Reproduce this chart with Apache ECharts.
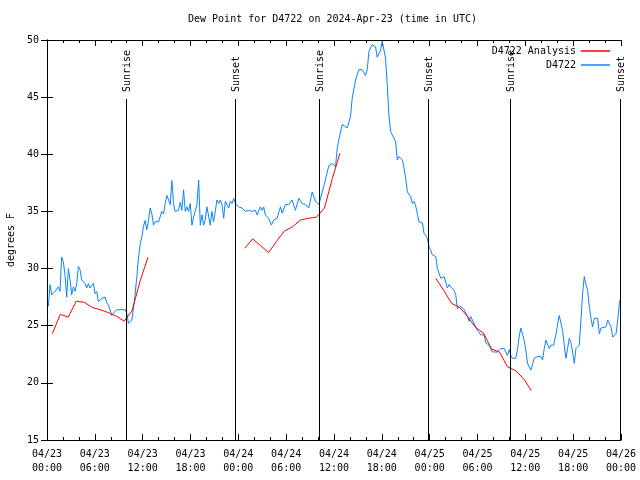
<!DOCTYPE html>
<html>
<head>
<meta charset="utf-8">
<script src="https://cdn.jsdelivr.net/npm/echarts@6/dist/echarts.min.js"></script>
<style>html,body{margin:0;padding:0;background:#fff}#c{width:640px;height:480px}</style>
</head>
<body>
<div id="c"></div>
<script>
// hours since 2024-04-23 00:00 UTC
var blueHours = [0.17,0.38,0.59,1.01,1.42,1.63,1.84,2.05,2.26,2.47,2.68,2.89,3.10,3.31,3.52,3.73,3.94,4.15,4.36,4.77,4.98,5.19,5.40,5.82,6.03,6.24,6.45,6.87,7.29,7.50,7.71,8.13,8.34,8.76,9.17,9.80,10.01,10.22,10.64,10.97,11.27,11.48,11.69,11.90,12.10,12.31,12.52,12.73,12.94,13.15,13.36,13.57,13.78,13.99,14.20,14.41,14.62,14.83,15.04,15.25,15.46,15.66,15.87,16.08,16.29,16.50,16.71,16.92,17.13,17.34,17.55,17.76,17.97,
18.18,18.39,18.60,18.81,19.02,19.23,19.44,19.65,19.85,20.06,20.27,20.48,20.69,20.90,21.11,21.32,21.53,21.74,21.95,22.16,22.37,22.79,23.00,23.21,23.42,23.63,24.04,24.46,24.88,25.30,25.72,26.14,26.35,26.76,26.97,27.18,27.39,27.81,28.15,28.44,28.86,29.28,29.49,29.91,30.33,30.74,31.16,31.58,32.00,32.42,32.84,33.26,33.68,34.10,34.31,34.72,35.35,
35.77,36.19,36.40,36.61,37.03,37.24,37.66,38.07,38.28,38.70,39.12,39.54,39.96,40.17,40.38,40.79,41.21,41.42,41.63,41.84,42.05,42.26,42.47,42.68,42.89,43.10,43.31,43.52,43.73,43.94,44.15,44.36,44.57,44.78,44.99,
45.20,45.41,45.62,45.82,46.03,46.24,46.45,46.66,46.87,47.08,47.29,47.50,47.71,47.92,48.13,48.34,48.76,48.97,49.18,49.39,49.60,49.81,50.01,50.22,50.43,50.64,50.85,51.06,51.27,51.48,51.69,51.90,52.11,52.32,52.74,52.95,
53.15,53.36,53.78,53.99,54.41,54.83,55.04,55.46,55.88,56.50,56.92,57.34,57.76,57.97,58.18,58.39,58.80,59.01,59.22,59.43,59.64,59.85,60.06,60.27,60.48,60.69,60.90,61.11,61.32,61.53,61.74,61.95,62.16,62.37,62.58,62.79,63.00,63.21,63.54,63.83,64.04,64.25,64.46,64.67,64.88,65.09,65.30,65.51,65.72,65.93,66.14,66.35,66.56,66.77,66.97,67.18,67.39,67.60,67.81,68.02,68.23,68.44,68.65,69.07,69.28,69.49,69.70,70.12,70.33,70.54,70.75,70.96,71.17,71.38,71.59,71.80,71.88];
var blueValues = [26.7,28.6,27.7,28.0,28.4,28.0,31.0,30.6,29.4,27.5,30.0,29.0,27.7,28.4,28.0,28.7,30.2,29.9,29.0,28.7,28.3,28.7,28.3,28.7,27.8,28.0,27.1,27.4,27.5,27.0,26.8,25.9,26.1,26.4,26.4,26.4,26.1,25.2,25.5,27.2,29.3,31.0,32.1,32.8,33.7,34.2,33.4,34.2,35.3,34.8,33.8,34.1,34.2,34.1,34.1,35.0,34.8,35.7,36.4,36.0,35.6,37.7,35.7,35.0,35.1,35.1,35.8,35.1,36.9,35.0,35.4,35.0,35.7,
33.8,34.5,34.5,35.6,37.75,33.8,34.7,33.8,34.25,35.4,35.4,33.8,35.0,34.1,35.0,36.0,35.7,36.0,35.6,34.4,35.9,35.3,35.9,35.7,36.15,35.7,35.4,35.3,35.0,35.1,35.0,35.1,34.7,35.4,35.1,35.4,34.7,34.4,33.8,34.25,34.4,35.4,34.85,35.6,35.6,36.0,35.1,36.15,35.7,35.6,35.3,36.7,35.9,35.6,35.7,37.2,39.0,
39.2,38.9,40.5,41.3,42.6,42.7,42.3,43.3,44.9,46.5,47.4,47.4,46.9,47.4,49.0,49.6,49.4,48.5,48.4,49.1,49.9,50.0,48.4,46.1,43.4,42.0,41.7,41.7,41.1,39.5,39.8,39.65,39.5,38.8,37.9,
36.7,36.6,36.3,35.7,35.9,35.5,34.8,34.1,34.1,34.0,33.1,32.9,32.65,31.9,31.6,31.2,31.05,30.0,29.9,29.15,29.0,29.3,29.15,28.3,28.6,28.4,28.3,28.1,27.7,26.5,26.5,26.7,26.7,26.4,25.8,25.4,
25.8,25.9,24.9,24.6,24.2,24.2,23.5,23.3,22.7,22.7,23.0,23.0,22.4,22.9,22.4,22.15,22.15,22.9,24.0,24.8,24.9,23.75,22.9,21.7,21.4,21.1,21.0,22.15,22.0,22.3,22.4,22.3,22.0,23.0,23.75,23.75,23.0,23.3,23.3,24.2,25.1,25.9,25.8,24.6,23.3,22.15,23.0,23.9,23.5,22.7,21.7,23.0,22.9,23.3,25.4,27.8,29.3,28.6,28.1,26.7,25.65,24.9,25.65,25.65,24.3,24.8,24.9,24.9,25.5,25.5,24.9,24.0,23.9,24.3,25.5,27.0,27.25];

var redHours = [0.67,1.67,2.67,3.67,4.67,5.67,6.67,7.67,8.67,9.67,10.67,11.67,12.67, 18,
24.8,25.8,26.8,27.8,28.8,29.8,30.8,31.8,32.8,33.8,34.8,35.8,36.75, 42,
48.76,49.76,50.76,51.76,52.76,53.76,54.76,55.76,56.76,57.76,58.76,59.76,60.76];
var redValues = [24.3,26.0,25.75,27.15,27.05,26.6,26.4,26.15,25.85,25.4,26.3,28.9,31.0, null,
31.77,32.6,32.0,31.4,32.4,33.3,33.65,34.25,34.4,34.5,35.3,37.9,40.1, null,
29.15,28.1,26.95,26.6,25.8,24.85,24.35,22.95,22.7,21.4,21.07,20.4,19.3];

var sunHours = [9.97,23.62,34.1,47.8,58.1,71.9];
var sunLabels = ['Sunrise','Sunset','Sunrise','Sunset','Sunrise','Sunset'];

var xTickLabels = ['04/23\n00:00','04/23\n06:00','04/23\n12:00','04/23\n18:00','04/24\n00:00','04/24\n06:00','04/24\n12:00','04/24\n18:00','04/25\n00:00','04/25\n06:00','04/25\n12:00','04/25\n18:00','04/26\n00:00'];

var titleText = 'Dew Point for D4722 on 2024-Apr-23 (time in UTC)';
var yName = 'degrees F';
var redName = 'D4722 Analysis';
var blueName = 'D4722';

var FONT = 'DejaVu Sans Mono';
function pairs(xs, ys){ return xs.map(function(x,i){ return [x, ys[i]]; }); }

var chart = echarts.init(document.getElementById('c'), null, {renderer:'canvas'});
var axisBase = {
  type:'value', min:0, max:72, interval:6,
  axisLine:{show:true, lineStyle:{color:'#000', width:1}},
  axisTick:{show:true, inside:true, length:6, lineStyle:{color:'#000'}},
  minorTick:{show:true, splitNumber:3, length:3, lineStyle:{color:'#000'}},
  splitLine:{show:false}
};
var yBase = {
  type:'value', min:15, max:50, interval:5,
  axisLine:{show:true, lineStyle:{color:'#000', width:1}},
  axisTick:{show:true, inside:true, length:6, lineStyle:{color:'#000'}},
  splitLine:{show:false}
};
chart.setOption({
  animation:false,
  backgroundColor:'#fff',
  title:{text:titleText, left:188, top:14, padding:0,
    textStyle:{fontFamily:FONT, fontSize:10, fontWeight:'normal', color:'#000'}},
  legend:[
    {data:[redName], right:30, top:46, padding:0, align:'right', icon:'rect', itemWidth:29, itemHeight:1.5,
      textStyle:{fontFamily:FONT, fontSize:10, color:'#000'}},
    {data:[blueName], right:30, top:60, padding:0, align:'right', icon:'rect', itemWidth:29, itemHeight:1.5,
      textStyle:{fontFamily:FONT, fontSize:10, color:'#000'}}
  ],
  grid:{left:47, right:19, top:40, bottom:40, containLabel:false, outerBoundsMode:'none'},
  xAxis:[
    Object.assign({}, axisBase, {position:'bottom',
      axisLabel:{show:true, margin:7, fontFamily:FONT, fontSize:10, color:'#000', lineHeight:14,
        formatter:function(v){ return xTickLabels[Math.round(v/6)]; }}}),
    Object.assign({}, axisBase, {position:'top', axisLabel:{show:false}})
  ],
  yAxis:[
    Object.assign({}, yBase, {position:'left', name:yName, nameLocation:'middle', nameGap:31, nameRotate:90,
      nameTextStyle:{fontFamily:FONT, fontSize:10, color:'#000'},
      axisLabel:{show:true, margin:8, fontFamily:FONT, fontSize:10, color:'#000'}}),
    Object.assign({}, yBase, {position:'right', axisLabel:{show:false}})
  ],
  series:[
    {name:redName, type:'line', data:pairs(redHours, redValues), showSymbol:false, connectNulls:false,
      color:'#ff0000', lineStyle:{color:'#ff0000', width:1}, z:3},
    {name:blueName, type:'line', data:pairs(blueHours, blueValues), showSymbol:false,
      color:'#0a84ff', lineStyle:{color:'#0a84ff', width:1}, z:2},
    {name:'sun', type:'custom', silent:true, clip:false, z:4,
      data:sunHours.map(function(h){ return [h, 15]; }),
      renderItem:function(params, api){
        var t = api.value(0);
        var b = api.coord([t, 15]);
        var top = api.coord([t, 50]);
        var x = Math.round(b[0]) + 0.5;
        return {type:'group', children:[
          {type:'line', shape:{x1:x, y1:b[1], x2:x, y2:top[1]+59}, style:{stroke:'#000', lineWidth:1}},
          {type:'text', x:x+1, y:top[1]+52, rotation:Math.PI/2,
            style:{text:sunLabels[params.dataIndex], fontFamily:FONT, fontSize:10, fill:'#000', align:'left', verticalAlign:'middle'}}
        ]};
      }}
  ]
});
</script>
</body>
</html>
